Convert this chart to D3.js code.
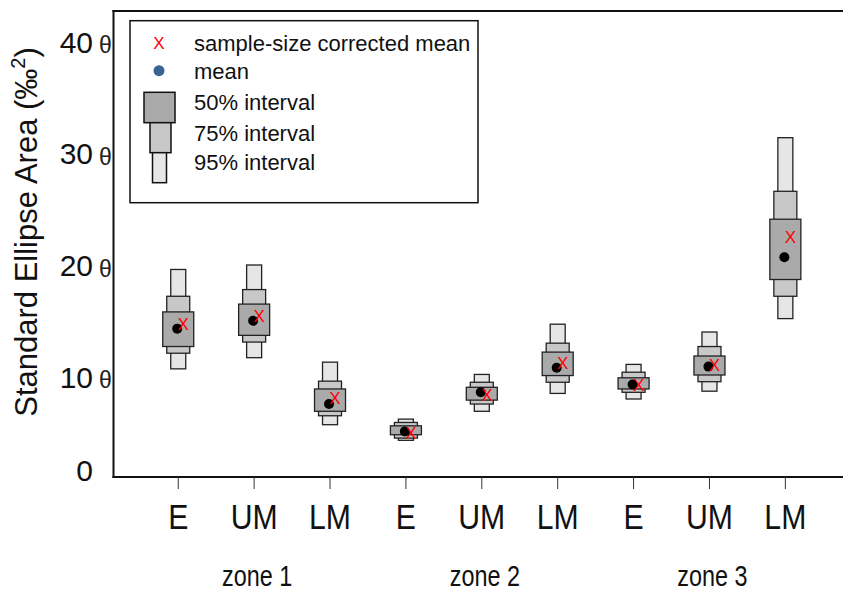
<!DOCTYPE html>
<html><head><meta charset="utf-8">
<script src="https://cdn.jsdelivr.net/npm/d3@7"></script>
<style>body{margin:0;background:#fff}svg{display:block;font-family:"Liberation Sans",Arial,sans-serif}</style>
</head><body><svg id="c" width="843" height="594"></svg>
<script>
const categories = ["E","UM","LM","E","UM","LM","E","UM","LM"];
const zones = ["zone 1","zone 2","zone 3"];
const hi95 = [19.9, 20.3, 11.6, 6.5, 10.5, 15.0, 11.4, 14.3, 31.7];
const lo95 = [11.0, 12.0, 6.0, 4.6, 7.2, 8.8, 8.3, 9.0, 15.5];
const hi75 = [17.5, 18.1, 9.9, 6.2, 9.8, 13.3, 10.7, 13.0, 26.9];
const lo75 = [12.4, 13.4, 6.8, 4.8, 7.85, 9.8, 8.9, 9.85, 17.5];
const hi50 = [16.1, 16.8, 9.2, 5.9, 9.35, 12.5, 10.2, 12.15, 24.4];
const lo50 = [13.0, 14.0, 7.2, 5.1, 8.2, 10.4, 9.2, 10.45, 19.0];
const means = [14.6, 15.3, 7.85, 5.4, 8.9, 11.1, 9.6, 11.2, 21.0];
const corrected = [15.0, 15.7, 8.4, 5.3, 8.7, 11.55, 9.6, 11.35, 22.8];
const yTicks = [0, 10, 20, 30, 40];
const legendLabels = ["sample-size corrected mean","mean","50% interval","75% interval","95% interval"];

const svg = d3.select("#c");
const L = 113.5, T = 11, B = 477, R = 843;
const keys = categories.map((c,i)=>i);
const x = d3.scaleBand().domain(keys).range([140.3, 823.3]);
const cx = i => x(i) + x.bandwidth()/2;
const y = d3.scaleLinear().domain([0, 40]).range([491.7, 45]);

const levels = [
  {lo: lo95, hi: hi95, w: 15, fill: "#e6e6e6"},
  {lo: lo75, hi: hi75, w: 23, fill: "#c8c8c8"},
  {lo: lo50, hi: hi50, w: 31, fill: "#aaaaaa"}
];
levels.forEach(lv => {
  svg.append("g").selectAll("rect").data(keys).join("rect")
    .attr("x", i => cx(i) - lv.w/2).attr("width", lv.w)
    .attr("y", i => y(lv.hi[i])).attr("height", i => y(lv.lo[i]) - y(lv.hi[i]))
    .attr("fill", lv.fill).attr("stroke", "#222").attr("stroke-width", 1.3);
});
svg.append("g").selectAll("circle").data(keys).join("circle")
  .attr("cx", i => cx(i) - 1).attr("cy", i => y(means[i])).attr("r", 5).attr("fill", "#000");
svg.append("g").selectAll("text").data(keys).join("text")
  .attr("x", i => cx(i) + 5).attr("y", i => y(corrected[i])).attr("dy", "0.36em")
  .attr("text-anchor", "middle").attr("font-size", 17).attr("fill", "#ff0000").text("X");

// frame
svg.append("line").attr("x1", L).attr("x2", L).attr("y1", T-1).attr("y2", B+1).attr("stroke", "#111").attr("stroke-width", 2);
svg.append("line").attr("x1", L-1).attr("x2", R).attr("y1", T).attr("y2", T).attr("stroke", "#111").attr("stroke-width", 2);
svg.append("line").attr("x1", L-1).attr("x2", R).attr("y1", B).attr("y2", B).attr("stroke", "#111").attr("stroke-width", 1.8);

// x ticks & labels
svg.append("g").selectAll("line").data(keys).join("line")
  .attr("x1", cx).attr("x2", cx).attr("y1", B).attr("y2", B + 12).attr("stroke", "#333").attr("stroke-width", 1);
svg.append("g").selectAll("text").data(keys).join("text")
  .attr("transform", i => `translate(${cx(i)},516) scale(0.84,1)`).attr("dy", "0.36em").attr("text-anchor", "middle")
  .attr("font-size", 36).attr("fill", "#111").text(i => categories[i]);
svg.append("g").selectAll("text").data(zones).join("text")
  .attr("transform", (z, j) => `translate(${cx(j*3 + 1) + 3},575) scale(0.78,1)`).attr("dy", "0.36em").attr("text-anchor", "middle")
  .attr("font-size", 30).attr("fill", "#111").text(z => z);

// y ticks
const yt = svg.append("g");
yt.selectAll("text.num").data(yTicks).join("text").attr("class", "num")
  .attr("x", 93).attr("y", v => Math.min(y(v) - 3, 470)).attr("dy", "0.36em").attr("text-anchor", "end")
  .attr("font-size", 30).attr("fill", "#111").text(v => v);
yt.selectAll("text.th").data(yTicks.filter(v => v > 0)).join("text").attr("class", "th")
  .attr("x", 105.5).attr("y", v => y(v)).attr("dy", "0.36em").attr("text-anchor", "middle")
  .attr("font-size", 23).attr("fill", "#222").text("θ");

// y title
const yl = svg.append("text").attr("transform", "translate(37,232) rotate(-90)")
  .attr("text-anchor", "middle").attr("font-size", 31).attr("fill", "#111");
yl.append("tspan").text("Standard Ellipse Area (‰");
yl.append("tspan").attr("dy", -12).attr("font-size", 20).text("2");
yl.append("tspan").attr("dy", 12).text(")");

// legend
const lg = svg.append("g");
lg.append("rect").attr("x", 130).attr("y", 20.7).attr("width", 348).attr("height", 182)
  .attr("fill", "#fff").attr("stroke", "#111").attr("stroke-width", 1.5);
const ly = [43, 71, 102, 133, 162];
lg.append("text").attr("x", 159).attr("y", 43).attr("dy", "0.36em").attr("text-anchor", "middle")
  .attr("font-size", 17).attr("fill", "#ff0000").text("X");
lg.append("circle").attr("cx", 159).attr("cy", 70.7).attr("r", 5.5).attr("fill", "#3b6391");
const lgBoxes = [
  {x0: 144, w: 31, y0: 92.3, y1: 122.7, fill: "#aaaaaa"},
  {x0: 150, w: 21, y0: 122.7, y1: 152.7, fill: "#c8c8c8"},
  {x0: 152.5, w: 14, y0: 152.7, y1: 182.7, fill: "#e6e6e6"}
];
lg.selectAll("rect.b").data(lgBoxes).join("rect").attr("class", "b")
  .attr("x", d => d.x0).attr("y", d => d.y0).attr("width", d => d.w).attr("height", d => d.y1 - d.y0)
  .attr("fill", d => d.fill).attr("stroke", "#111").attr("stroke-width", 1.5);
lg.selectAll("text.l").data(legendLabels).join("text").attr("class", "l")
  .attr("x", 194).attr("y", (d, i) => ly[i]).attr("dy", "0.36em")
  .attr("font-size", 22).attr("fill", "#111").text(d => d);
</script></body></html>
